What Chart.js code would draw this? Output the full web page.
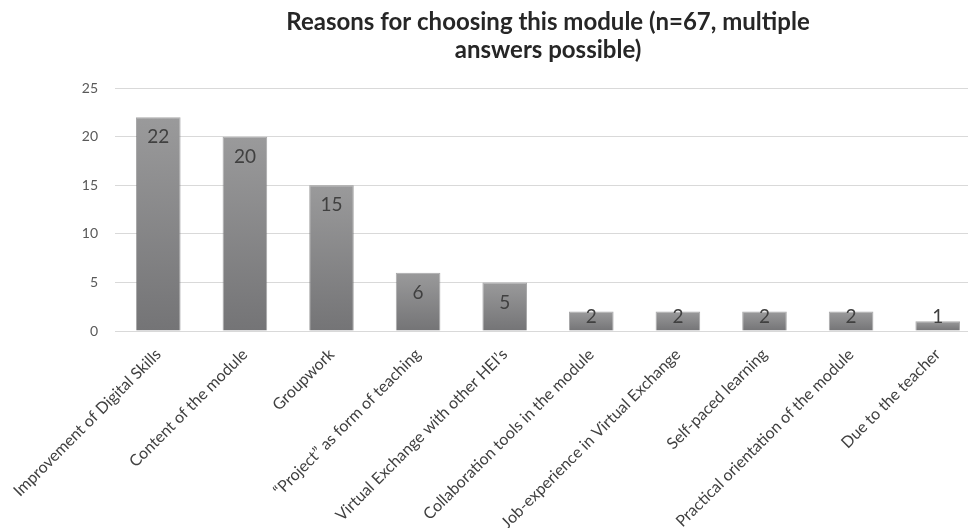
<!DOCTYPE html>
<html>
<head>
<meta charset="utf-8">
<script src="https://cdn.jsdelivr.net/npm/chart.js@4.4.1/dist/chart.umd.min.js"></script>
<style>
  html, body { margin: 0; padding: 0; background: #fff; overflow: hidden; }
  #wrap { width: 990px; height: 560px; }
</style>
</head>
<body>
<div id="wrap"><canvas id="grafica" width="990" height="560"></canvas></div>
<script>
// data
var titulo = ['Reasons for choosing this module (n=67, multiple', 'answers possible)'];
var categorias = [
  'Improvement of Digital Skills',
  'Content of the module',
  'Groupwork',
  '\u201CProject\u201D as form of teaching',
  'Virtual Exchange with other HEI\u2019s',
  'Collaboration tools in the module',
  'Job-experience in Virtual Exchange',
  'Self-paced learning',
  'Practical orientation of the module',
  'Due to the teacher'
];
var valores = [22, 20, 15, 6, 5, 2, 2, 2, 2, 1];
var ticksY = [0, 5, 10, 15, 20, 25];

var miCanvas = document.getElementById('grafica').getContext('2d');

// numbers inside the top of each bar
var etiquetas = {
  id: 'etiquetas',
  afterDatasetsDraw: function(chart) {
    var ctx = chart.ctx;
    var meta = chart.getDatasetMeta(0);
    ctx.save();
    ctx.font = '19px Lato';
    ctx.fillStyle = '#404040';
    ctx.textAlign = 'center';
    ctx.textBaseline = 'middle';
    meta.data.forEach(function(bar, i) {
      var y = Math.min(bar.y + 20, bar.base - 14);
      ctx.fillText(String(valores[i]), bar.x, y);
    });
    ctx.restore();
  }
};

function degradado(c) {
  var chart = c.chart;
  if (!chart.chartArea || !chart.scales.y) return '#888888';
  var esc = chart.scales.y;
  var top = esc.getPixelForValue(c.raw);
  var base = esc.getPixelForValue(0);
  var g = chart.ctx.createLinearGradient(0, top, 0, base);
  g.addColorStop(0, '#9a9a9b');
  g.addColorStop(1, '#747476');
  return g;
}

var chart = new Chart(miCanvas, {
  type: 'bar',
  data: {
    labels: categorias,
    datasets: [{
      data: valores,
      backgroundColor: degradado,
      borderColor: 'rgba(110,110,112,0.6)',
      borderWidth: 1,
      borderSkipped: 'bottom',
      categoryPercentage: 1,
      barPercentage: 0.515
    }]
  },
  options: {
    responsive: false,
    animation: false,
    devicePixelRatio: 1,
    layout: { padding: { left: 0, right: 9, top: 0, bottom: 0 } },
    plugins: {
      legend: { display: false },
      tooltip: { enabled: false },
      title: {
        display: true,
        text: titulo,
        fullSize: false,
        color: '#262626',
        font: { family: 'Lato', size: 24, weight: 'bold', lineHeight: 1.17 },
        padding: { top: 8, bottom: 24 }
      }
    },
    scales: {
      y: {
        min: 0,
        max: 25,
        afterFit: function(s) { s.width = 115; },
        afterBuildTicks: function(s) { s.ticks = ticksY.map(function(v) { return { value: v }; }); },
        ticks: { color: '#595959', font: { family: 'Lato', size: 14 }, padding: 17 },
        grid: { color: '#d9d9d9', drawTicks: false },
        border: { display: false }
      },
      x: {
        afterFit: function(s) { s.height = 229; s.paddingLeft = 0; s.paddingRight = 0; },
        ticks: {
          autoSkip: false,
          minRotation: 45,
          maxRotation: 45,
          color: '#404040',
          font: { family: 'Lato', size: 16 },
          padding: 14
        },
        grid: { display: false, drawTicks: false },
        border: { display: true, color: '#d9d9d9' }
      }
    }
  },
  plugins: [etiquetas]
});
</script>
</body>
</html>
